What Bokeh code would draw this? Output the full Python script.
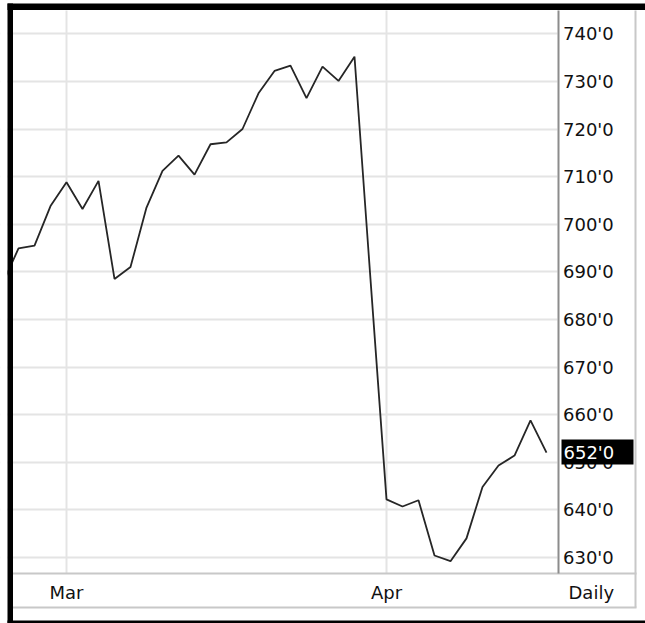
from bokeh.plotting import figure
from bokeh.models import FixedTicker, BoxAnnotation, Label, Range1d
from bokeh.embed import file_html
from bokeh.resources import INLINE

# ---- data ----
day_index = list(range(35))
prices = [687.5, 694.9, 695.5, 703.8, 708.8, 703.2, 709.1, 688.5, 691.0, 703.5,
          711.2, 714.4, 710.4, 716.8, 717.2, 720.0, 727.5, 732.2, 733.3, 726.5,
          733.1, 730.1, 735.2, 688.4, 642.2, 640.7, 642.0, 630.4, 629.2, 634.0,
          644.8, 649.3, 651.4, 658.8, 652.0]
month_start_index = [4, 24]
month_labels = ["Mar", "Apr"]
price_ticks = list(range(630, 750, 10))
price_tick_labels = [f"{v}'0" for v in price_ticks]
period_label = "Daily"

last_price = prices[-1]
last_price_label = f"{last_price:.0f}'0"

FONT = "DejaVu Sans"
W, H = 645, 623

# layout helpers: page pixel -> data coordinate (the frame fills the whole canvas)
def px_x(px):
    return (px - 2.0) / 16.0

def px_y(py):
    return 740.0 - (py - 33.3) / 4.76

p = figure(width=W, height=H, output_backend="svg", toolbar_location=None, tools="",
           x_range=Range1d(px_x(0), px_x(W)), y_range=Range1d(px_y(H), px_y(0)),
           y_axis_location="right", x_axis_location="below",
           min_border_left=0, min_border_right=0, min_border_top=0, min_border_bottom=0)
p.outline_line_color = None
p.background_fill_color = "white"
p.border_fill_color = "white"

# grid
p.xgrid.ticker = FixedTicker(ticks=month_start_index)
p.ygrid.ticker = FixedTicker(ticks=price_ticks)
p.grid.grid_line_color = "#e4e4e4"
p.grid.grid_line_width = 2

def box(x0, x1, y0, y1, color, level="annotation"):
    b = BoxAnnotation(left=px_x(x0), right=px_x(x1), top=px_y(y0), bottom=px_y(y1),
                      fill_color=color, fill_alpha=1.0, line_color=None, level=level)
    p.add_layout(b)
    return b

# white areas outside the plotting region (hide grid lines there)
box(557, W, 0, H, "white", level="underlay")
box(0, W, 573, H, "white", level="underlay")
box(0, W, 0, 10, "white", level="underlay")

p.line(day_index, prices, line_color="#262626", line_width=1.8)

# axes placed at fixed locations inside the canvas
xa = p.xaxis[0]
xa.fixed_location = px_y(573)
xa.bounds = (px_x(12), px_x(636))
xa.ticker = FixedTicker(ticks=month_start_index)
xa.major_label_overrides = dict(zip(month_start_index, month_labels))
xa.axis_line_color = "#c8c8c8"
xa.axis_line_width = 2
xa.major_tick_line_color = None
xa.minor_tick_line_color = None
xa.major_tick_out = 0
xa.major_tick_in = 0
xa.major_label_standoff = 8
xa.major_label_text_font = FONT
xa.major_label_text_font_size = "18px"
xa.major_label_text_color = "#111111"

ya = p.yaxis[0]
ya.fixed_location = px_x(557.5)
ya.bounds = (px_y(573), px_y(10))
ya.ticker = FixedTicker(ticks=price_ticks)
ya.major_label_overrides = dict(zip(price_ticks, price_tick_labels))
ya.axis_line_color = "#8c8c8c"
ya.axis_line_width = 2
ya.major_tick_line_color = None
ya.minor_tick_line_color = None
ya.major_tick_out = 0
ya.major_tick_in = 0
ya.major_label_standoff = 5
ya.major_label_text_font = FONT
ya.major_label_text_font_size = "18px"
ya.major_label_text_color = "#111111"

# frame chrome
box(0, 7, 0, H, "white")               # left margin (hides line start)
box(634, 636, 10, 607, "#c8c8c8")      # right grey border
box(12, 636, 606, 608, "#c8c8c8")      # bottom grey border
box(7, W, 3, 9.5, "black")             # top black band
box(7, 12.5, 3, 622.5, "black")        # left black band
box(7, W, 620, 622.5, "black")         # bottom black line

# last price marker
p.add_layout(BoxAnnotation(left=px_x(561), right=px_x(633),
                           top=last_price + 2.75, bottom=last_price - 2.5,
                           fill_color="black", fill_alpha=1.0, line_color=None))
p.add_layout(Label(x=px_x(563), y=last_price, text=last_price_label,
                   text_color="white", text_font=FONT, text_font_size="18px",
                   text_baseline="middle", text_align="left"))

p.add_layout(Label(x=px_x(568), y=px_y(591.5), text=period_label,
                   text_color="#111111", text_font=FONT, text_font_size="18px",
                   text_baseline="middle", text_align="left"))

open("out.html", "w").write(file_html(p, INLINE))
